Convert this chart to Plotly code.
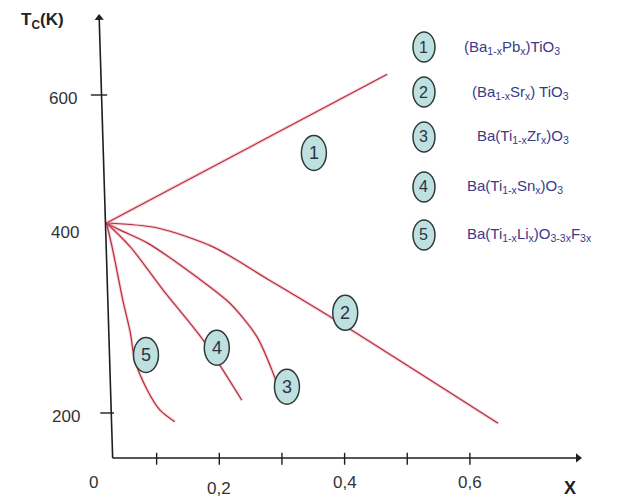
import plotly.graph_objects as go

# Curie temperature vs. substitution level x for substituted BaTiO3 systems
formulas = [
    "(Ba<sub>1-x</sub>Pb<sub>x</sub>)TiO<sub>3</sub>",
    "(Ba<sub>1-x</sub>Sr<sub>x</sub>) TiO<sub>3</sub>",
    "Ba(Ti<sub>1-x</sub>Zr<sub>x</sub>)O<sub>3</sub>",
    "Ba(Ti<sub>1-x</sub>Sn<sub>x</sub>)O<sub>3</sub>",
    "Ba(Ti<sub>1-x</sub>Li<sub>x</sub>)O<sub>3-3x</sub>F<sub>3x</sub>",
]
numbers = ["1", "2", "3", "4", "5"]

# curve 1: (Ba,Pb)TiO3
pb_x = [0.020, 0.468]
pb_tc = [439, 626]
# curve 2: (Ba,Sr)TiO3
sr_x = [0.020, 0.100, 0.190, 0.280, 0.377, 0.645]
sr_tc = [439, 433, 409, 367, 321, 187]
# curve 3: Ba(Ti,Zr)O3
zr_x = [0.020, 0.042, 0.085, 0.164, 0.217, 0.260, 0.286, 0.291]
zr_tc = [439, 430, 414, 371, 338, 296, 250, 239]
# curve 4: Ba(Ti,Sn)O3
sn_x = [0.020, 0.058, 0.110, 0.174, 0.236]
sn_tc = [439, 409, 355, 292, 216]
# curve 5: Ba(Ti,Li)(O,F)3
li_x = [0.020, 0.030, 0.046, 0.058, 0.065, 0.085, 0.105, 0.129]
li_tc = [439, 405, 342, 301, 267, 229, 204, 189]

# where each curve number sits on the chart
tag_x = [0.351, 0.401, 0.308, 0.196, 0.083]
tag_tc = [527, 326, 233, 282, 273]

# axis ticks and labels
x_ticks = [0.1, 0.2, 0.3, 0.4, 0.5, 0.6]
x_labels = ["0", "0,2", "0,4", "0,6"]
x_label_vals = [0.0, 0.2, 0.4, 0.6]
y_labels = ["600", "400", "200"]

CURVE = "#b2303f"
HALO = "rgba(238,120,140,0.35)"
AXIS = "#1e1e1e"
TEXT = "#333333"
FORMULA = "#3a3a8a"
TAG_FILL = "#bfe0e0"
FONT = "Liberation Sans, Arial, sans-serif"

fig = go.Figure()

curves = [(pb_x, pb_tc, "linear"), (sr_x, sr_tc, "spline"), (zr_x, zr_tc, "spline"),
          (sn_x, sn_tc, "spline"), (li_x, li_tc, "spline")]
for xs, ys, shape in curves:
    # soft pink fringe under a thin dark-red stroke
    fig.add_trace(go.Scatter(
        x=xs, y=ys, mode="lines",
        line=dict(color=HALO, width=3.2, shape=shape, smoothing=0.8),
        showlegend=False, hoverinfo="skip",
    ))
    fig.add_trace(go.Scatter(
        x=xs, y=ys, mode="lines",
        line=dict(color=CURVE, width=1.2, shape=shape, smoothing=0.8),
        showlegend=False, hoverinfo="skip",
    ))

shapes = []
annotations = []

# hand-drawn style axes
x_base = 143.4
shapes.append(dict(type="line", xref="x", yref="y", x0=0.0298, y0=x_base, x1=0.776, y1=x_base,
                   line=dict(color=AXIS, width=1.6)))
shapes.append(dict(type="line", xref="x", yref="y", x0=0.0298, y0=x_base, x1=0.0083, y1=697,
                   line=dict(color=AXIS, width=1.6)))
# arrow heads
fig.add_trace(go.Scatter(
    x=[0.7725, 0.0083], y=[x_base, 696.9], mode="markers",
    marker=dict(symbol=["triangle-right", "triangle-up"], size=8, color=AXIS,
                angle=[0, -1.8], line=dict(width=0)),
    showlegend=False, hoverinfo="skip",
))

# x tick marks crossing the axis
for xv in x_ticks:
    shapes.append(dict(type="line", xref="x", yref="y", x0=xv, x1=xv,
                       y0=x_base + 6.5, y1=x_base - 8.5,
                       line=dict(color=AXIS, width=1.4)))
# y tick marks at 600 and 200
shapes.append(dict(type="line", xref="x", yref="y", x0=-0.005, x1=0.021, y0=600, y1=600,
                   line=dict(color=AXIS, width=1.4)))
shapes.append(dict(type="line", xref="x", yref="y", x0=0.010, x1=0.032, y0=200, y1=200,
                   line=dict(color=AXIS, width=1.4)))

# x tick labels
x_label_y = [112, 104.5, 112, 112]
for txt, xv, yv in zip(x_labels, x_label_vals, x_label_y):
    annotations.append(dict(x=xv, y=yv, xref="x", yref="y", text=txt, showarrow=False,
                            xanchor="center", yanchor="middle",
                            font=dict(family=FONT, size=17, color=TEXT)))
# y tick labels
y_label_pos = [(-0.049, 595), (-0.046, 427), (-0.045, 195)]
for txt, (xv, yv) in zip(y_labels, y_label_pos):
    annotations.append(dict(x=xv, y=yv, xref="x", yref="y", text=txt, showarrow=False,
                            xanchor="center", yanchor="middle",
                            font=dict(family=FONT, size=17, color=TEXT)))

# axis titles
annotations.append(dict(x=0.066, y=0.958, xref="paper", yref="paper",
                        text="<b>T<sub>C</sub>(K)</b>", showarrow=False,
                        xanchor="center", yanchor="middle",
                        font=dict(family=FONT, size=17, color="#222222")))
annotations.append(dict(x=0.895, y=0.022, xref="paper", yref="paper",
                        text="<b>X</b>", showarrow=False,
                        xanchor="center", yanchor="middle",
                        font=dict(family=FONT, size=18, color="#222222")))


def tag(xv, yv, ref_x, ref_y, num, w, h, size):
    shapes.append(dict(type="circle", xref=ref_x, yref=ref_y,
                       xsizemode="pixel", ysizemode="pixel", xanchor=xv, yanchor=yv,
                       x0=-w / 2, x1=w / 2, y0=-h / 2, y1=h / 2,
                       fillcolor=TAG_FILL, line=dict(color="#2e3a3a", width=1.5)))
    annotations.append(dict(x=xv, y=yv, xref=ref_x, yref=ref_y, text=num, showarrow=False,
                            xanchor="center", yanchor="middle",
                            font=dict(family=FONT, size=size, color="#2a3440")))


# numbered tags on the curves
for num, xv, yv in zip(numbers, tag_x, tag_tc):
    tag(xv, yv, "x", "y", num, 25, 35, 18)

# key on the right: numbered tag + formula
key_x = 0.6656
key_y = [0.9058, 0.8156, 0.7255, 0.6253, 0.5291]
text_x = [0.7253, 0.7378, 0.7457, 0.7300, 0.7300]
for num, f, ky, tx in zip(numbers, formulas, key_y, text_x):
    tag(key_x, ky, "paper", "paper", num, 22, 30, 16)
    annotations.append(dict(x=tx, y=ky, xref="paper", yref="paper", text=f,
                            showarrow=False, xanchor="left", yanchor="middle",
                            font=dict(family=FONT, size=15, color=FORMULA)))

fig.update_layout(
    width=637, height=499, autosize=False,
    margin=dict(l=0, r=0, t=0, b=0),
    paper_bgcolor="white", plot_bgcolor="white",
    xaxis=dict(range=[-0.15, 0.8667], visible=False, fixedrange=True),
    yaxis=dict(range=[91.8, 719.5], visible=False, fixedrange=True),
    shapes=shapes, annotations=annotations,
)

fig.write_html("out.html")
